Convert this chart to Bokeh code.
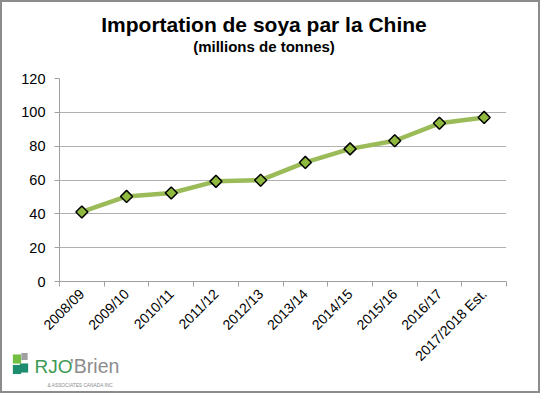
import math
from bokeh.plotting import figure
from bokeh.models import Range1d, FixedTicker, Label
from bokeh.embed import file_html
from bokeh.resources import INLINE

seasons = ["2008/09", "2009/10", "2010/11", "2011/12", "2012/13",
           "2013/14", "2014/15", "2015/16", "2016/17", "2017/2018 Est."]
imports_mt = [41.1, 50.3, 52.3, 59.2, 59.9, 70.4, 78.4, 83.2, 93.5, 97.0]
y_ticks = [0, 20, 40, 60, 80, 100, 120]

title_text = "Importation de soya par la Chine"
subtitle_text = "(millions de tonnes)"

xs = [i + 0.5 for i in range(len(seasons))]

W, H = 540, 393
p = figure(width=W, height=H, output_backend="svg", toolbar_location=None,
           x_range=Range1d(0, len(seasons)), y_range=Range1d(0, 120),
           min_border_left=57, min_border_right=36, min_border_top=76,
           min_border_bottom=114)
p.styles = {"border": "2px solid #8c8c8c"}
p.outline_line_color = None
p.background_fill_color = "white"
p.border_fill_color = "white"

p.xgrid.visible = False
p.ygrid.grid_line_color = "#b0b0b0"
p.ygrid.grid_line_width = 1

p.yaxis.ticker = FixedTicker(ticks=y_ticks)
p.yaxis.axis_line_color = "#a0a0a0"
p.yaxis.major_tick_line_color = "#a0a0a0"
p.yaxis.major_tick_out = 5
p.yaxis.major_tick_in = 0
p.yaxis.minor_tick_line_color = None
p.yaxis.major_label_text_font = "Liberation Sans"
p.yaxis.major_label_text_font_size = "14.5px"
p.yaxis.major_label_text_color = "black"
p.yaxis.major_label_standoff = 9

p.xaxis.ticker = FixedTicker(ticks=xs, minor_ticks=list(range(len(seasons) + 1)))
p.xaxis.major_label_overrides = {x: s for x, s in zip(xs, seasons)}
p.xaxis.major_label_orientation = math.pi / 4
p.xaxis.axis_line_color = "#a0a0a0"
p.xaxis.major_tick_line_color = None
p.xaxis.minor_tick_line_color = "#a0a0a0"
p.xaxis.minor_tick_out = 5
p.xaxis.minor_tick_in = 0
p.xaxis.major_label_text_font = "Liberation Sans"
p.xaxis.major_label_text_font_size = "14px"
p.xaxis.major_label_text_color = "black"
p.xaxis.major_label_standoff = 4

p.line(xs, imports_mt, line_color="#9bbb59", line_width=4.5)
p.scatter(xs, imports_mt, marker="square", angle=math.pi / 4, size=8.5,
          fill_color="#8fb83e", line_color="black", line_width=1.5)


def lab(x, y, text, size, color, bold=False, align="left"):
    s = float(size.replace("px", ""))
    return Label(x=x, y=y - 0.5 * s, x_units="canvas", y_units="canvas", text=text,
                 text_align=align, text_baseline="alphabetic",
                 text_font="Liberation Sans",
                 text_font_style="bold" if bold else "normal",
                 text_font_size=size, text_color=color)


def sq(cx, cy, pad, color):
    return Label(x=cx, y=cy, x_units="canvas", y_units="canvas", text=" ",
                 text_align="center", text_baseline="middle", text_font_size="1px",
                 padding=pad, background_fill_color=color, background_fill_alpha=1,
                 text_color=color)


p.add_layout(lab(259.5, 30, title_text, "21px", "black", bold=True, align="center"), "above")
p.add_layout(lab(259.5, 49, subtitle_text, "15px", "black", bold=True, align="center"), "above")

# logo
p.add_layout(lab(30, 371, "RJO", "19px", "#3d9a55"), "above")
p.add_layout(lab(43, 383, "& ASSOCIATES CANADA INC", "4.8px", "#8c8c8c"), "above")
p.add_layout(lab(65, 371, "\u2019Brien", "19.5px", "#8c8c8c"), "below")
p.add_layout(sq(12.5, 365, 4, "#1e8c6e"), "right")
p.add_layout(sq(19.5, 363.5, 4, "#1e8c6e"), "left")
p.add_layout(sq(12.5, 354.5, 4, "#72bf44"), "right")
p.add_layout(sq(20, 352, 3, "#a0a0a0"), "right")

open("out.html", "w").write(file_html(p, INLINE))
